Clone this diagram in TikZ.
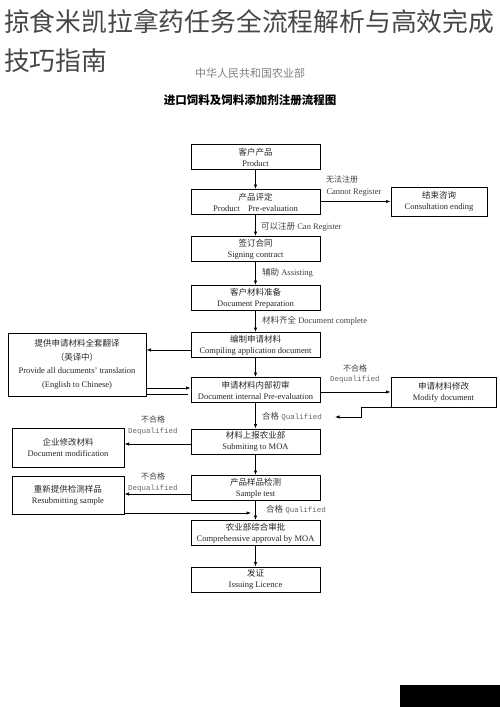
\documentclass[tikz,border=0pt]{standalone}
\usepackage{fontspec}
\setmainfont{Liberation Serif}
\newfontfamily\cjk{Noto Sans CJK SC}
\newfontfamily\mono{Liberation Mono}
\usetikzlibrary{arrows.meta, calc, positioning}

\begin{document}
\begin{tikzpicture}[x=1pt, y=-1pt,
	box/.style={draw, line width=1pt, minimum width=129pt, minimum height=25pt, inner sep=1pt, align=center, font=\fontsize{8.5}{11}\selectfont, text=black!85},
	sidebox/.style={box, minimum width=112pt},
	arr/.style={-{Latex[length=4.5pt,width=3.5pt]}, line width=0.7pt},
	lbl/.style={font=\fontsize{8.5}{9}\selectfont, text=black!75, inner sep=0pt},
	dq/.style={font=\mono\fontsize{7.5}{8}\selectfont, text=black!60, inner sep=0pt}]
			\useasboundingbox (0,0) rectangle (500,707);
			
			% Headings
			\node[font=\cjk\fontsize{25.8}{30}\selectfont, text=black!72, anchor=west, inner sep=0pt] (head1) at (4,22) {掠食米凯拉拿药任务全流程解析与高效完成};
			\node[font=\cjk\fontsize{25.8}{30}\selectfont, text=black!72, anchor=west, inner sep=0pt] (head2) at (4,61) {技巧指南};
			\node[font=\cjk\fontsize{11}{13}\selectfont, text=black!50] (ministry) at (250,73) {中华人民共和国农业部};
			\node[font=\cjk\bfseries\fontsize{11.5}{13}\selectfont] (title) at (250,100) {进口饲料及饲料添加剂注册流程图};
			
			% Main column
			\node[box] (prod) at (255.5,157) {{\cjk 客户产品}\\Product};
			\node[box] (preeval) at (255.5,202) {{\cjk 产品评定}\\Product\quad Pre-evaluation};
			\node[box] (sign) at (255.5,249) {{\cjk 签订合同}\\Signing contract};
			\node[box] (prep) at (255.5,298) {{\cjk 客户材料准备}\\Document Preparation};
			\node[box] (compile) at (255.5,345) {{\cjk 编制申请材料}\\Compiling application document};
			\node[box] (internal) at (255.5,390) {{\cjk 申请材料内部初审}\\Document internal Pre-evaluation};
			\node[box] (submit) at (255.5,441.5) {{\cjk 材料上报农业部}\\Submiting to MOA};
			\node[box] (sample) at (255.5,488) {{\cjk 产品样品检测}\\Sample test};
			\node[box] (approve) at (255.5,533) {{\cjk 农业部综合审批}\\Comprehensive approval by MOA};
			\node[box] (licence) at (255.5,579.5) {{\cjk 发证}\\Issuing Licence};
			
			% Side boxes
			\node[box, minimum width=96pt, minimum height=29pt] (consult) at (439,201.5) {{\cjk 结束咨询}\\Consultation ending};
			\node[box, minimum width=105pt, minimum height=30pt] (modify) at (443.5,392) {{\cjk 申请材料修改}\\Modify document};
			\node[box, minimum width=138pt, minimum height=63pt, font=\fontsize{8.5}{13.5}\selectfont] (translate) at (77,364.5) {{\cjk 提供申请材料全套翻译}\\{\cjk （英译中）}\\Provide all ducuments’ translation\\(English to Chinese)};
			\node[sidebox, minimum height=39pt] (docmod) at (68,447.5) {{\cjk 企业修改材料}\\Document modification};
			\node[sidebox, minimum height=38pt] (resub) at (68,495) {{\cjk 重新提供检测样品}\\Resubmitting sample};
			
			% Arrows down the main column
			\draw[arr] (prod) -- (preeval);
			\draw[arr] (preeval) -- (sign);
			\draw[arr] (sign) -- (prep);
			\draw[arr] (prep) -- (compile);
			\draw[arr] (compile) -- (internal);
			\draw[arr] (internal) -- (submit);
			\draw[arr] (submit) -- (sample);
			\draw[arr] (sample) -- (approve);
			\draw[arr] (approve) -- (licence);
			
			% Labels on the main column
			\node[lbl, anchor=west] (canreg) at (261,227) {{\cjk 可以注册} Can Register};
			\node[lbl, anchor=west] (assist) at (262,273) {{\cjk 辅助} Assisting};
			\node[lbl, anchor=west] (complete) at (262,321) {{\cjk 材料齐全} Document complete};
			\node[lbl, anchor=west] (qual1) at (262,417) {{\cjk 合格} {\mono\fontsize{7.5}{8}\selectfont\color{black!60}Qualified}};
			\node[lbl, anchor=west] (qual2) at (266,510) {{\cjk 合格} {\mono\fontsize{7.5}{8}\selectfont\color{black!60}Qualified}};
			
			% Cannot register
			\draw[arr] (preeval.east |- consult.west) -- (consult.west);
			\node[lbl, font=\cjk\fontsize{8}{9}\selectfont] (noreg) at (342,179) {无法注册};
			\node[lbl] (noregen) at (354,193) {Cannot Register};
			
			% Translation loop
			\draw[arr] ([yshift=-5pt]compile.west) -- ([yshift=-5pt]compile.west -| translate.east);
			\draw[arr] ([yshift=2pt]internal.west -| translate.east) -- ([yshift=2pt]internal.west);
			\draw[line width=0.7pt] ([yshift=-4pt]internal.west -| translate.east) -- ([xshift=-3pt, yshift=-4pt]internal.west);
			
			% Modify loop
			\draw[arr] (internal.east |- modify.west) -- (modify.west);
			\node[lbl, font=\cjk\fontsize{8}{9}\selectfont] (fail1) at (355,368) {不合格};
			\node[dq] (fail1en) at (355,380) {Dequalified};
			\coordinate (qback) at (335,417);
			\draw[arr] (modify.south west) -- ++(-29,0) |- (qback);
			
			% Failing at the ministry
			\draw[arr] ([yshift=-2.5pt]submit.west) -- ([yshift=-2.5pt]submit.west -| docmod.east);
			\node[lbl, font=\cjk\fontsize{8}{9}\selectfont] (fail2) at (153,419) {不合格};
			\node[dq] (fail2en) at (153,432) {Dequalified};
			
			\draw[arr] ([yshift=-6pt]sample.west) -- ([yshift=-6pt]sample.west -| resub.east);
			\node[lbl, font=\cjk\fontsize{8}{9}\selectfont] (fail3) at (153,476) {不合格};
			\node[dq] (fail3en) at (153,489) {Dequalified};
			\coordinate (resubend) at (251,513);
			\draw[arr] (resub.east |- resubend) -- (resubend);
			
			% Corner mark
			\fill[black] (400,685) rectangle (500,707);
		\end{tikzpicture}
\end{document}
